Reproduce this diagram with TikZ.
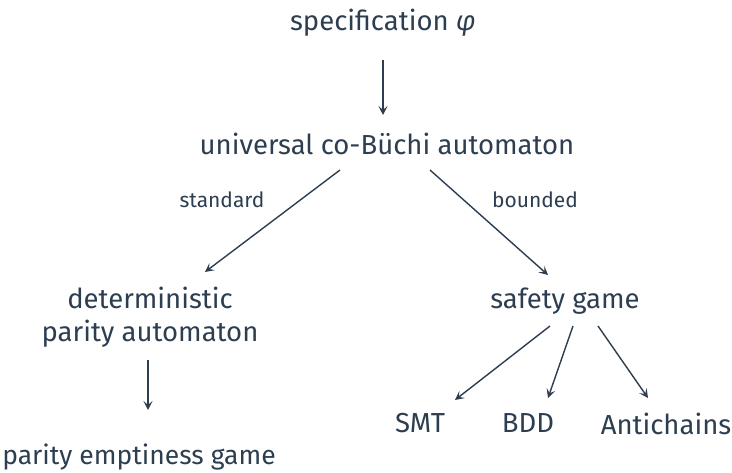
\documentclass[tikz,border=0pt]{standalone}
\usepackage{fontspec}
\setmainfont{Fira Sans}
\usetikzlibrary{arrows.meta}
\definecolor{ink}{HTML}{2C3E50}
\begin{document}
\begin{tikzpicture}[x=1pt,y=-1pt,
  lbl/.style={text=ink,font=\fontsize{27.5}{33}\selectfont,inner sep=0pt,align=center},
  small/.style={text=ink,font=\fontsize{21}{24}\selectfont,inner sep=0pt},
  arr/.style={draw=ink,line width=1.4pt,-{Stealth[length=9pt,width=9pt,inset=4pt]}}]
\useasboundingbox (0,0) rectangle (732,473);
\node[lbl] (spec) at (383,23) {specification \textit{φ}};
\node[lbl] (ucb) at (387,144) {universal co-Büchi automaton};
\node[small] (std) at (222,200) {standard};
\node[small] (bnd) at (535,200) {bounded};
\node[lbl] (dpa) at (150,317) {deterministic\\parity automaton};
\node[lbl,font=\fontsize{26.5}{33}\selectfont] (peg) at (139,457) {parity emptiness game};
\node[lbl] (sg) at (565,301) {safety game};
\node[lbl] (smt) at (420,423) {SMT};
\node[lbl] (bdd) at (528,423) {BDD};
\node[lbl] (ac) at (666,424) {Antichains};
\coordinate (a1) at (383,60); \coordinate (a2) at (383,115);
\coordinate (b1) at (340,170); \coordinate (b2) at (205,272);
\coordinate (c1) at (430,170); \coordinate (c2) at (548,275);
\coordinate (d1) at (148,360); \coordinate (d2) at (148,410);
\coordinate (e1) at (550,326); \coordinate (e2) at (455,400);
\coordinate (f1) at (573,326); \coordinate (f2) at (548,398);
\coordinate (g1) at (598,326); \coordinate (g2) at (648,398);
\draw[arr] (a1) -- (a2);
\draw[arr] (b1) -- (b2);
\draw[arr] (c1) -- (c2);
\draw[arr] (d1) -- (d2);
\draw[arr] (e1) -- (e2);
\draw[arr] (f1) -- (f2);
\draw[arr] (g1) -- (g2);
\end{tikzpicture}
\end{document}
